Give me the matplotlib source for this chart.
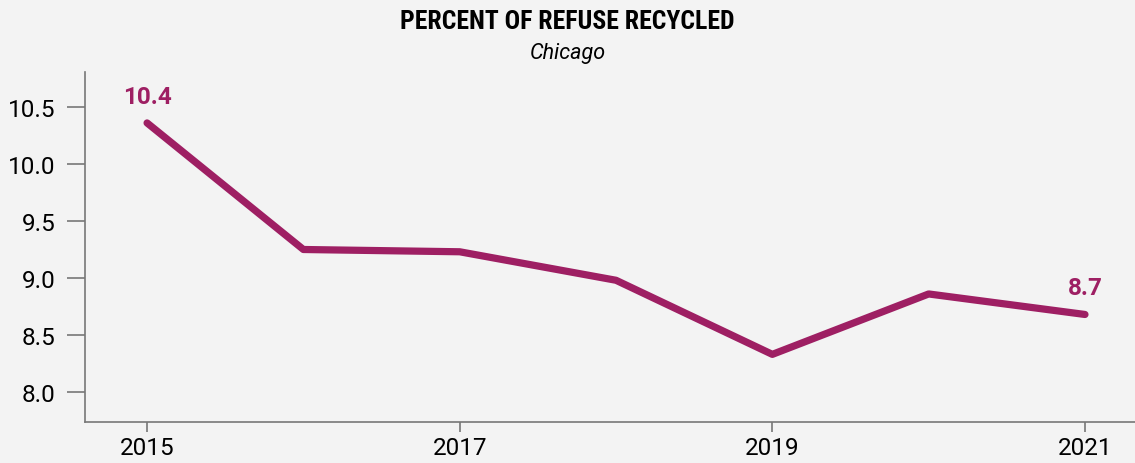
import matplotlib.pyplot as plt

# Percent of refuse recycled, Chicago
years = [2015, 2016, 2017, 2018, 2019, 2020, 2021]
percent = [10.36, 9.25, 9.23, 8.98, 8.33, 8.86, 8.68]
x_ticks = [2015, 2017, 2019, 2021]
y_ticks = [8.0, 8.5, 9.0, 9.5, 10.0, 10.5]

bg = '#f3f3f3'
line_color = '#9e1f63'

plt.rcParams['font.family'] = ['Roboto', 'DejaVu Sans']

fig = plt.figure(figsize=(11.35, 4.64), dpi=100, facecolor=bg)
ax = fig.add_axes([0.0749, 0.0884, 0.9251, 0.7543], facecolor=bg)

ax.plot(years, percent, color=line_color, linewidth=5.2, solid_capstyle='round',
        solid_joinstyle='round')

# label first and last values
for i in (0, len(years) - 1):
    ax.annotate(f'{percent[i]:.1f}', (years[i], percent[i]), xytext=(0, 11),
                textcoords='offset points', ha='center', va='bottom',
                fontsize=17.5, fontweight='bold', color=line_color)

ax.set_xlim(2014.603, 2021.32)
ax.set_ylim(7.737, 10.807)
ax.set_xticks(x_ticks)
ax.set_yticks(y_ticks)
ax.set_yticklabels([f'{v:.1f}' for v in y_ticks])

for s in ['top', 'right']:
    ax.spines[s].set_visible(False)
for s in ['left', 'bottom']:
    ax.spines[s].set_color('#777777')
    ax.spines[s].set_linewidth(1.2)

ax.tick_params(axis='y', length=13, width=1.2, color='#777777', labelsize=17.5,
               pad=8, labelcolor='black')
ax.tick_params(axis='x', length=7, width=1.2, color='#777777', labelsize=17.5,
               pad=3, labelcolor='black')

fig.text(0.5, 0.953, 'PERCENT OF REFUSE RECYCLED', ha='center', va='center',
         fontsize=18.5, fontweight='heavy',
         family=['Roboto Condensed', 'Roboto', 'DejaVu Sans'], color='black')
fig.text(0.5, 0.885, 'Chicago', ha='center', va='center', fontsize=15.5,
         style='italic', color='black')

fig.savefig('out.png', dpi=100, facecolor=bg)
